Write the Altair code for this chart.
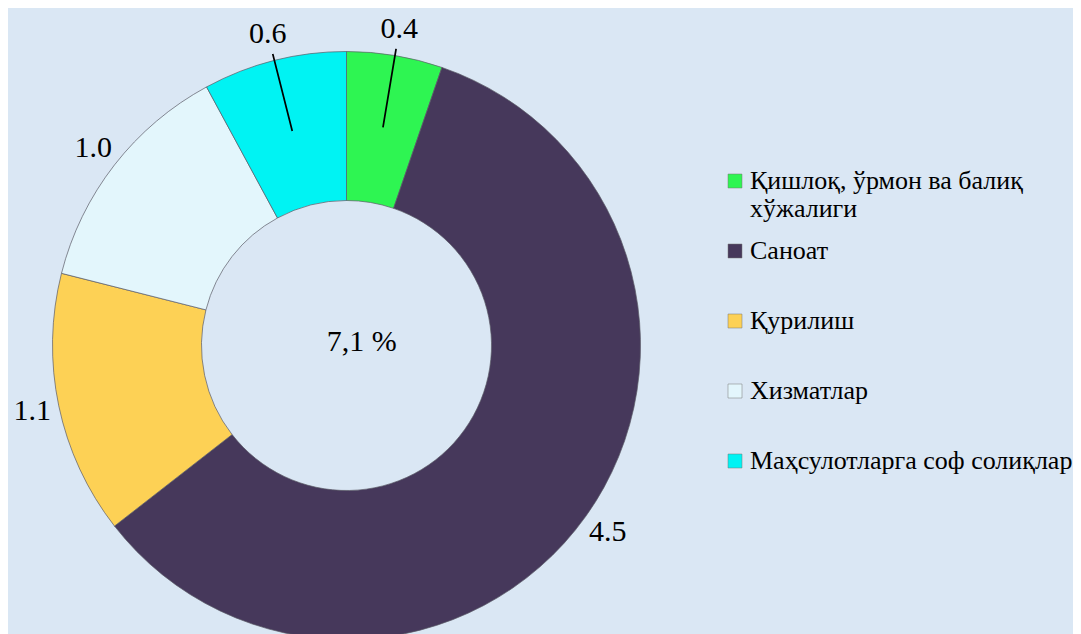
import math
import altair as alt
import pandas as pd

categories = ["Қишлоқ, ўрмон ва балиқ хўжалиги", "Саноат", "Қурилиш",
              "Хизматлар", "Маҳсулотларга соф солиқлар"]
values = [0.4, 4.5, 1.1, 1.0, 0.6]
labels = ["0.4", "4.5", "1.1", "1.0", "0.6"]
colors = ["#2ef552", "#46385b", "#fdd155", "#e3f6fc", "#00f3f3"]
center_text = ["7,1 %"]

FONT = "Liberation Serif, Times New Roman, serif"

ends = []
acc = 0.0
for v in values:
    acc += v
    ends.append(acc)
starts = [e - v for e, v in zip(ends, values)]
mids = [s + v / 2 for s, v in zip(starts, values)]
total = sum(values)

df = pd.DataFrame({"category": categories, "value": values, "label": labels,
                   "start": starts, "end": ends, "mid": mids})

cx, cy = 338.5, 337.5
theta_scale = alt.Scale(domain=[0, total], range=[0, 2 * math.pi])

first_line, second_line = categories[0].rsplit(" ", 1)
label_expr = (f"datum.label === '{categories[0]}' ? "
              f"['{first_line}', '{second_line}'] : [datum.label, ' ']")

color = alt.Color(
    "category:N",
    sort=categories,
    scale=alt.Scale(domain=categories, range=colors),
    legend=alt.Legend(
        title=None, orient="none", legendX=714, legendY=160, padding=0,
        symbolType="square", symbolSize=196, symbolStrokeWidth=0.5,
        symbolStrokeColor="#777777", symbolOpacity=1,
        labelFont=FONT, labelFontSize=26, labelColor="black",
        labelLimit=500, labelOffset=2, rowPadding=16, labelExpr=label_expr,
    ),
)

base = alt.Chart(df)

arcs = base.mark_arc(innerRadius=145, outerRadius=294, stroke="#5a5a66",
                     strokeWidth=0.7).encode(
    theta=alt.Theta("start:Q", stack=None, scale=theta_scale),
    theta2="end:Q",
    color=color,
    x=alt.value(cx), y=alt.value(cy),
)

leaders = base.transform_filter("datum.value < 0.8").transform_calculate(
    mid2="datum.mid + 0.0006"
).mark_arc(innerRadius=222, outerRadius=300, fill="black", stroke="black",
           strokeWidth=1.6).encode(
    theta=alt.Theta("mid:Q", stack=None, scale=theta_scale),
    theta2="mid2:Q",
    x=alt.value(cx), y=alt.value(cy),
)

texts = base.mark_text(font=FONT, fontSize=30, color="black",
                       radius=321).encode(
    theta=alt.Theta("mid:Q", stack=None, scale=theta_scale),
    text="label:N",
    x=alt.value(cx), y=alt.value(cy),
)

center = alt.Chart(pd.DataFrame({"t": center_text})).mark_text(
    font=FONT, fontSize=30, color="black"
).encode(text="t:N", x=alt.value(353.7), y=alt.value(334))

chart = alt.layer(arcs, leaders, texts, center).properties(
    width=1065, height=626, padding=0,
    autosize=alt.AutoSizeParams(type="none"),
    background="#dae7f4",
).configure_view(strokeWidth=0)

chart.save("out.html", embed_options={"renderer": "svg", "actions": False})
